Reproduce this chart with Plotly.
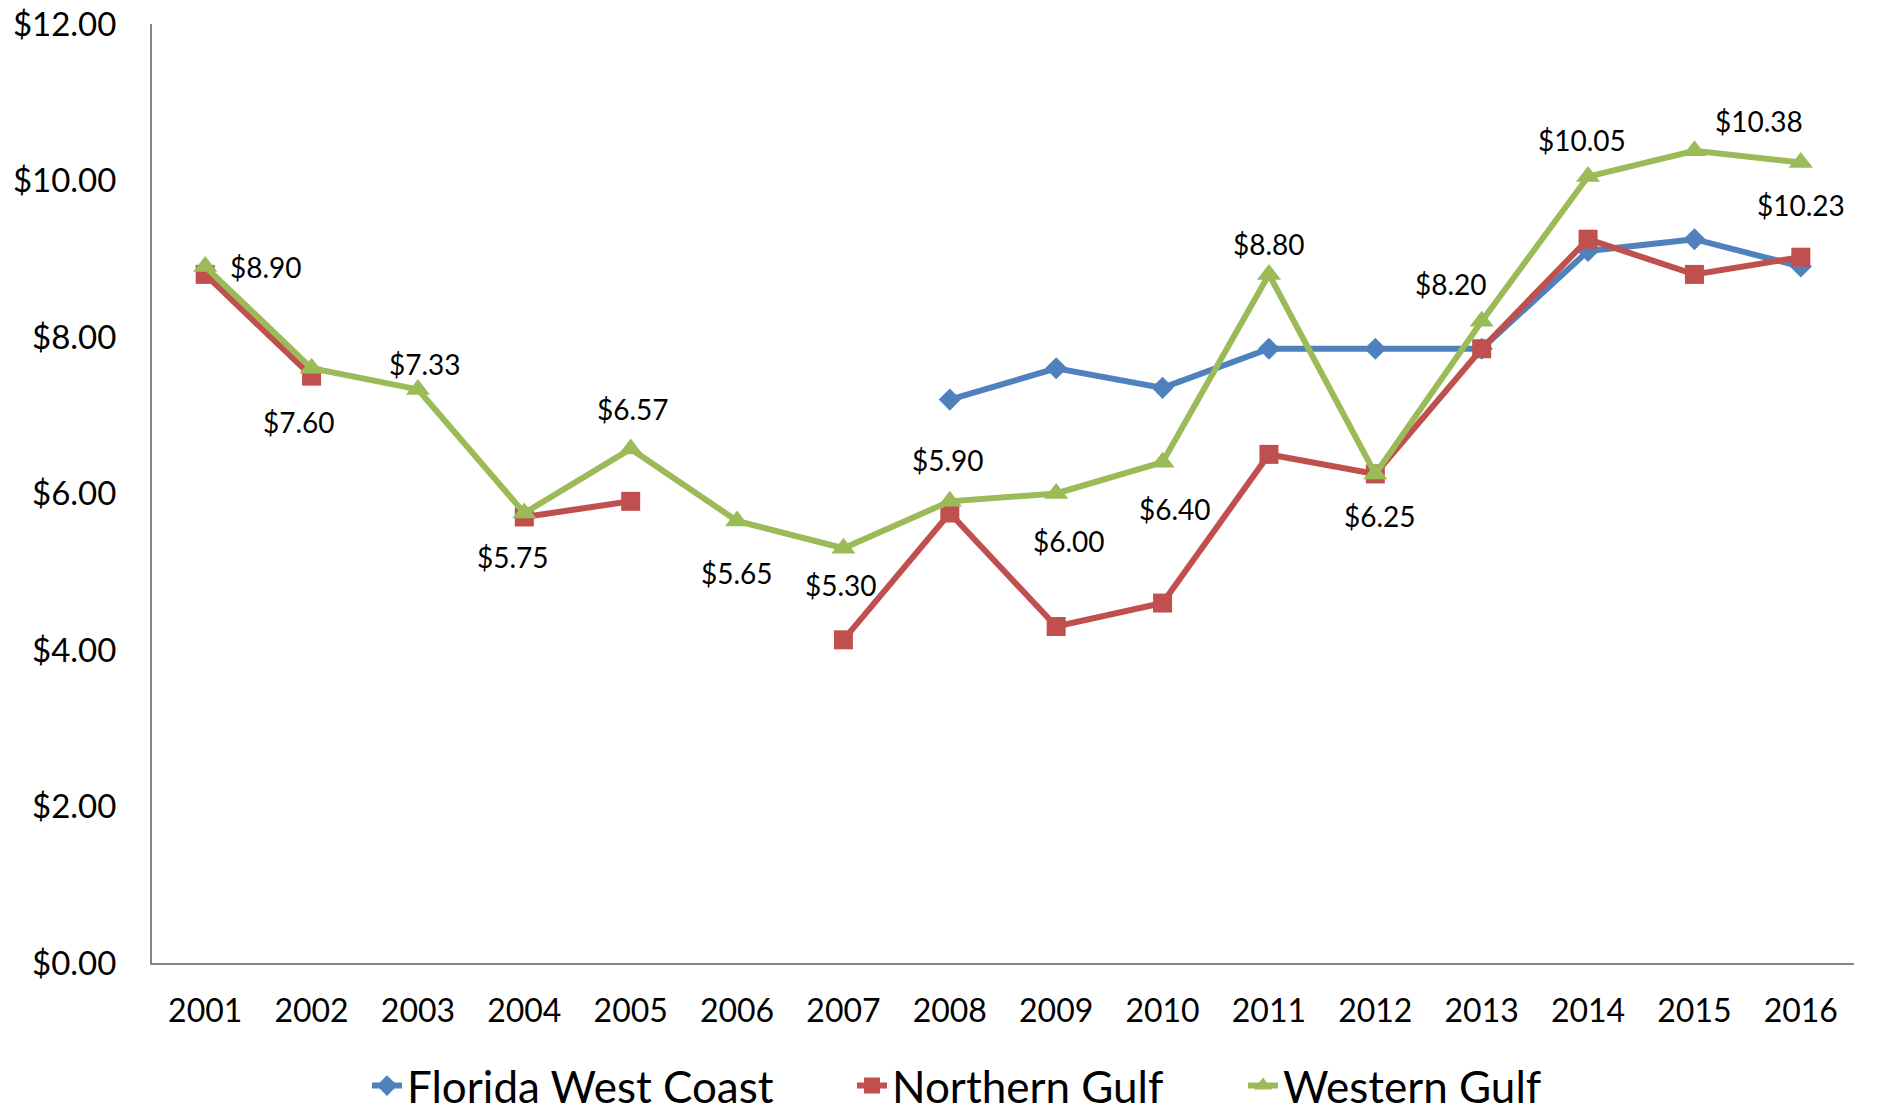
import plotly.graph_objects as go

years = ["2001", "2002", "2003", "2004", "2005", "2006", "2007", "2008",
         "2009", "2010", "2011", "2012", "2013", "2014", "2015", "2016"]

florida_west_coast = [None, None, None, None, None, None, None, 7.20,
                      7.60, 7.35, 7.85, 7.85, 7.85, 9.10, 9.25, 8.90]
northern_gulf = [8.80, 7.50, None, 5.70, 5.90, None, 4.13, 5.75,
                 4.30, 4.60, 6.50, 6.25, 7.85, 9.25, 8.80, 9.02]
western_gulf = [8.90, 7.60, 7.33, 5.75, 6.57, 5.65, 5.30, 5.90,
                6.00, 6.40, 8.80, 6.25, 8.20, 10.05, 10.38, 10.23]

y_ticks = [0, 2, 4, 6, 8, 10, 12]
y_tick_labels = ["$0.00", "$2.00", "$4.00", "$6.00", "$8.00", "$10.00", "$12.00"]

# label offsets (pixels) for Western Gulf data labels
label_dx = [61, -13, 7, -11, 2, 0, -2, -2, 13, 12, 0, 5, -31, -6, 65, 0]
label_dy = [0, 54, -25, 44, -40, 52, 37, -41, 47, 47, -30, 42, -37, -37, -30, 42]

FONT = "Lato"
W, H = 1873, 1098          # page body has an 8px margin
legend_left_px = [359, 844, 1235]

fig = go.Figure()
fig.add_trace(go.Scatter(
    x=years, y=florida_west_coast, name="Florida West Coast", mode="lines+markers",
    line=dict(color="#4F81BD", width=6), marker=dict(symbol="diamond", size=17, color="#4F81BD"),
    connectgaps=False, legend="legend"))
fig.add_trace(go.Scatter(
    x=years, y=northern_gulf, name="Northern Gulf", mode="lines+markers",
    line=dict(color="#C0504D", width=6), marker=dict(symbol="square", size=19, color="#C0504D"),
    connectgaps=False, legend="legend2"))
fig.add_trace(go.Scatter(
    x=years, y=western_gulf, name="Western Gulf", mode="lines+markers",
    line=dict(color="#9BBB59", width=6), marker=dict(symbol="triangle-up", size=21, color="#9BBB59"),
    connectgaps=False, legend="legend3"))

for i, (yv, dx, dy) in enumerate(zip(western_gulf, label_dx, label_dy)):
    fig.add_annotation(x=i, y=yv, xref="x", yref="y", text="$" + "{:.2f}".format(yv),
                       showarrow=False, xshift=dx, yshift=-dy,
                       xanchor="center", yanchor="middle",
                       font=dict(family=FONT, size=28, color="#000000"))

def legend_style(px):
    return dict(orientation="h", x=px / W, xanchor="left", xref="container",
                y=20 / H, yanchor="middle", yref="container",
                font=dict(family=FONT, size=44, color="#000000"),
                itemwidth=30, borderwidth=0, bgcolor="rgba(0,0,0,0)")

fig.update_layout(
    width=W, height=H,
    margin=dict(l=144, r=27, t=16, b=143, autoexpand=False),
    paper_bgcolor="white", plot_bgcolor="white",
    font=dict(family=FONT, color="#000000"),
    showlegend=True,
    legend=legend_style(legend_left_px[0]),
    legend2=legend_style(legend_left_px[1]),
    legend3=legend_style(legend_left_px[2]),
)
fig.update_xaxes(
    type="category", range=[-0.5, 15.5], showline=True, linecolor="#868686", linewidth=2,
    showgrid=False, zeroline=False, ticks="", tickfont=dict(family=FONT, size=32),
    ticklabelstandoff=19, fixedrange=True, automargin=False)
fig.update_yaxes(
    range=[0, 12], tickmode="array", tickvals=y_ticks, ticktext=y_tick_labels,
    showline=True, linecolor="#868686", linewidth=2, showgrid=False, zeroline=False,
    ticks="", tickfont=dict(family=FONT, size=33), ticklabelstandoff=27, fixedrange=True,
    automargin=False, ticklabeloverflow="allow")

fig.write_html("out.html")
